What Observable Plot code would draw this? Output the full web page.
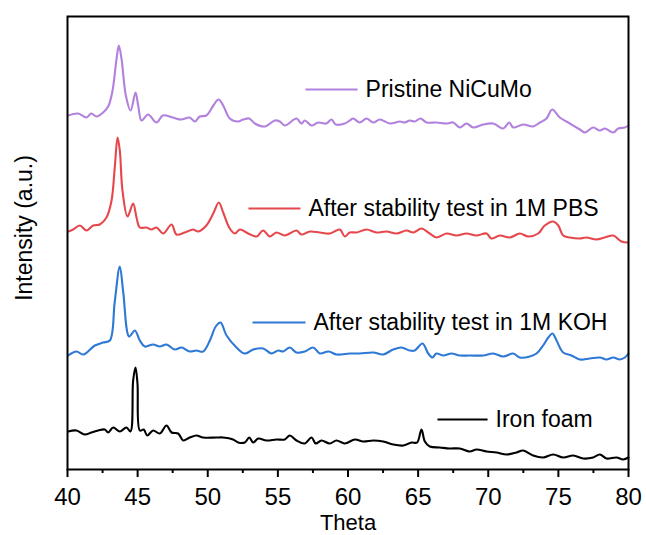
<!DOCTYPE html>
<html>
<head>
<meta charset="utf-8">
<script src="https://cdn.jsdelivr.net/npm/d3@7"></script>
<script src="https://cdn.jsdelivr.net/npm/@observablehq/plot@0.6"></script>
<style>
  html, body { margin: 0; padding: 0; background: #fff; }
</style>
</head>
<body>
<div id="chart"></div>
<script>
// ---- Data (intensity in arbitrary units) ----
const seriesNames = ["Pristine NiCuMo", "After stability test in 1M PBS", "After stability test in 1M KOH", "Iron foam"];
const seriesColors = ["#b281de", "#e6474c", "#2e78d6", "#000000"];

const thetaPristine = [40.05,40.76,41.35,41.7,42.07,42.54,42.9,43.2,43.5,43.66,43.85,44.16,44.5,44.85,45.04,45.28,45.75,46.35,46.8,47.5,48.1,48.7,49.08,49.43,49.9,50.4,50.77,51.1,51.57,52.17,52.53,52.96,53.36,54.07,54.78,55.14,55.5,56.33,56.68,56.92,57.4,57.87,58.46,58.82,59.13,59.77,60.13,60.37,60.84,61.32,61.8,62.27,62.98,63.7,64.05,64.4,64.76,65.17,65.6,66.3,67.02,67.5,67.97,68.45,68.93,69.64,70.35,71.07,71.5,71.78,72.49,73.2,73.68,74.15,74.56,75.1,75.82,76.53,76.9,77.48,77.96,78.3,78.91,79.27,79.74,80];
const intPristine = [354,356,352,356,353,357,363,378,411,424,411,374,359,377,364,349,355,347,354,352,350,352,348,353,354,364,370,364,351,348,350,351,346,343,349,348,344,351,346,349,344,347,346,350,345,346,349,351,347,351,347,350,346,348,347,349,348,351,347,347,346,347,342,346,342,345,346,341,347,342,345,343,347,351,360,352,346,340,337,342,339,341,337,341,342,344];

const thetaPBS = [40.05,40.4,40.88,41.35,41.83,42.3,42.78,43.14,43.37,43.57,43.73,43.92,44.28,44.68,44.92,45.16,45.63,45.99,46.35,46.82,47.42,47.77,48.36,48.96,49.32,49.9,50.39,50.79,51.1,51.57,51.93,52.29,52.88,53.48,53.95,54.42,54.9,55.49,56.33,56.68,57.28,57.99,58.7,59.42,59.77,60.13,60.6,61.32,62.03,62.75,63.46,64.17,64.65,65.24,65.83,66.3,67.02,67.74,68.45,69.16,69.88,70.23,70.82,71.54,72.25,72.85,73.56,74.03,74.63,74.99,75.34,75.82,76.53,77.0,77.72,78.31,78.91,79.5,79.98];
const intPBS = [238,240,244,239,244,245,252,269,302,332,319,279,253,266,252,242,242,240,242,236,245,235,237,240,238,244,256,267,257,241,236,240,236,233,239,233,237,234,239,235,238,237,236,240,233,237,237,240,237,238,236,239,237,241,236,232,236,234,236,234,236,231,234,232,236,233,236,244,248,244,234,232,231,232,230,232,234,228,227];

const thetaKOH = [40.05,40.64,41.12,41.95,42.54,43.02,43.37,43.73,43.97,44.4,44.8,45.16,45.51,46.1,46.58,47.06,47.65,48.13,48.72,49.2,49.67,50.15,50.57,50.91,51.34,52.05,52.64,53.24,53.95,54.55,55.02,55.38,55.85,56.33,56.92,57.52,57.99,58.61,59.2,60.13,60.84,61.8,62.51,63.22,63.81,64.4,64.76,65.31,65.72,66.03,66.3,66.79,67.38,67.97,68.68,69.64,70.35,71.07,71.78,72.25,72.96,73.44,73.91,74.28,74.58,74.87,75.34,75.94,76.53,77.24,77.96,78.43,78.91,79.38,79.74,80];
const intKOH = [114,118,115,124,127,129,168,203,178,133,139,129,123,125,123,125,120,122,118,119,118,129,143,147,134,122,116,120,121,116,119,118,122,117,118,122,116,118,115,116,116,117,115,120,122,119,119,126,116,112,116,114,116,114,114,114,116,113,116,112,113,116,124,132,136,129,117,114,110,111,112,110,112,110,112,116];

const thetaIron = [40.05,40.64,41.23,41.71,42.19,42.66,42.9,43.26,43.73,44.2,44.49,44.68,44.85,44.99,45.16,45.44,45.68,46.1,46.58,47.06,47.42,47.89,48.25,48.72,49.2,49.67,50.62,51.1,51.81,52.17,52.64,52.96,53.24,53.6,54.19,54.9,55.49,55.85,56.33,56.92,57.4,57.7,58.11,58.7,59.18,59.77,60.49,61.08,61.8,62.51,63.22,63.94,64.53,64.93,65.24,65.48,65.83,66.55,67.26,67.97,68.68,69.16,69.88,70.59,71.3,72.01,72.49,73.2,73.91,74.63,75.34,76.06,76.77,77.48,77.96,78.43,79.14,79.62,80];
const intIron = [38,39,35,37,39,40,37,42,38,42,38,89,102,86,39,40,34,39,36,44,37,36,29,32,34,32,32,32,30,27,27,32,27,31,29,30,30,34,29,26,32,26,29,26,29,26,30,28,29,28,25,24,27,27,40,28,23,22,21,21,18,20,18,17,15,17,19,14,12,15,12,14,11,12,15,11,12,10,12];

const majorTicks = [40, 45, 50, 55, 60, 65, 70, 75, 80];
const minorTicks = [42.5, 47.5, 52.5, 57.5, 62.5, 67.5, 72.5, 77.5];
const xLabel = "Theta";
const yLabel = "Intensity (a.u.)";

// ---- Build table for the library ----
const thetas = [thetaPristine, thetaPBS, thetaKOH, thetaIron];
const ints = [intPristine, intPBS, intKOH, intIron];
const rows = [];
seriesNames.forEach((name, i) => {
  thetas[i].forEach((t, j) => rows.push({series: name, theta: t, intensity: ints[i][j]}));
});
const color = d3.scaleOrdinal(seriesNames, seriesColors);

// legend placement (layout only)
const legendLayout = [
  {series: seriesNames[0], x1: 56.97, x2: 60.68, y: 380},
  {series: seriesNames[1], x1: 52.9, x2: 56.61, y: 261},
  {series: seriesNames[2], x1: 53.19, x2: 56.97, y: 147},
  {series: seriesNames[3], x1: 66.38, x2: 69.95, y: 50}
];

const font = "'Liberation Sans', Arial, Helvetica, sans-serif";

const chart = Plot.plot({
  width: 646,
  height: 535,
  marginLeft: 67,
  marginRight: 18,
  marginTop: 16,
  marginBottom: 66,
  style: {fontFamily: font, fontSize: "23px", background: "#fff", color: "#000"},
  x: {domain: [40, 80], axis: null},
  y: {domain: [0, 453], axis: null},
  marks: [
    Plot.line(rows, {x: "theta", y: "intensity", z: "series", stroke: d => color(d.series), strokeWidth: 2.1, curve: "catmull-rom"}),
    Plot.link(legendLayout, {x1: "x1", x2: "x2", y1: "y", y2: "y", stroke: d => color(d.series), strokeWidth: 2.1}),
    Plot.text(legendLayout, {x: "x2", y: "y", text: "series", dx: 8, textAnchor: "start", lineAnchor: "middle", fontSize: 23, fill: "#000"}),
    Plot.axisX({ticks: majorTicks, tickSize: 8, tickFormat: () => "", strokeWidth: 2, label: null}),
    Plot.axisX({ticks: minorTicks, tickSize: 4, tickFormat: () => "", strokeWidth: 2, label: null}),
    Plot.text(majorTicks, {x: d => d, frameAnchor: "bottom", dy: 28, lineAnchor: "middle", textAnchor: "middle", fontSize: 24, fill: "#000"}),
    Plot.frame({stroke: "#000", strokeWidth: 2}),
    Plot.text([xLabel], {frameAnchor: "bottom", dy: 53, lineAnchor: "middle", textAnchor: "middle", fontSize: 22, fill: "#000"}),
    Plot.text([yLabel], {frameAnchor: "left", dx: -43, dy: -15, rotate: -90, lineAnchor: "middle", textAnchor: "middle", fontSize: 23, fill: "#000"})
  ]
});
document.getElementById("chart").appendChild(chart);
</script>
</body>
</html>
